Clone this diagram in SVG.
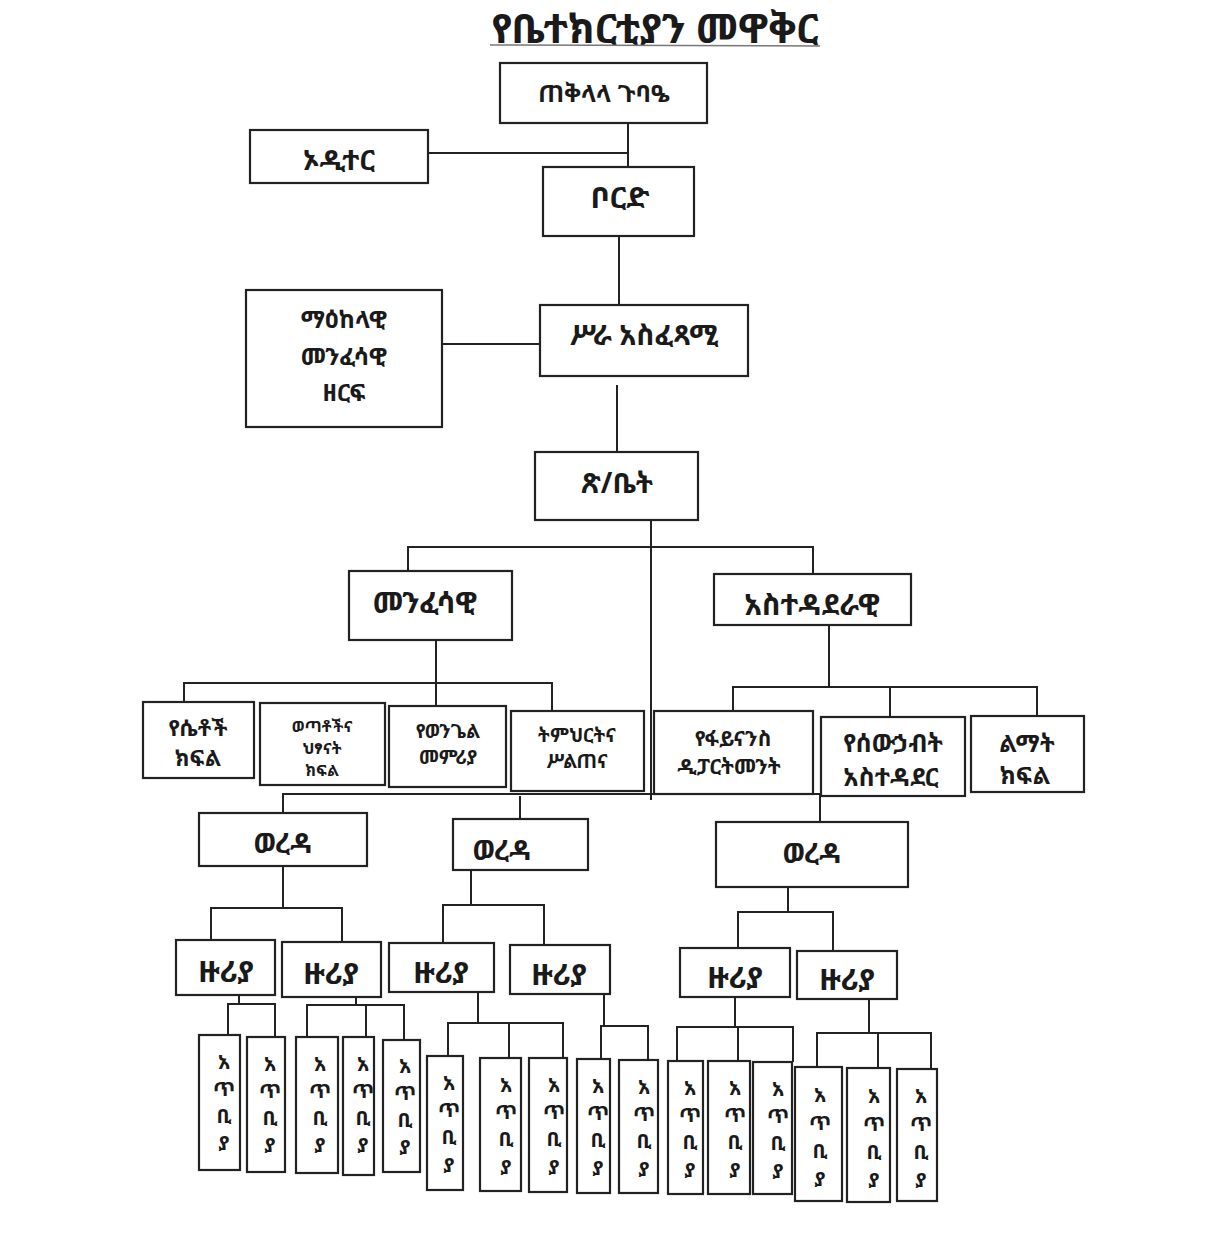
<svg xmlns="http://www.w3.org/2000/svg" width="1218" height="1243" viewBox="0 0 1218 1243">
<style>
.box{fill:#fff;stroke:#222;stroke-width:2.2}
.t{font-family:'Noto Sans Ethiopic','Noto Serif Ethiopic','Abyssinica SIL','DejaVu Sans','Noto Sans',sans-serif;font-weight:bold;fill:#1a1a1a;text-anchor:middle;dominant-baseline:central}
.l{fill:none;stroke:#222;stroke-width:2}
.s16{font-size:16px}.s19{font-size:19px}.s20{font-size:20px}.s21{font-size:21px}.s22{font-size:22px}.s24{font-size:24px}.s25{font-size:25px}.s28{font-size:28px}.s29{font-size:29px}.s30{font-size:30px}
</style>
<rect width="1218" height="1243" fill="#fff"/>
<g id="title">
<text class="t" x="655" y="27" style="font-size:40px">የቤተክርቲያን መዋቅር</text>
<line x1="490" y1="45" x2="820" y2="46" stroke="#777" stroke-width="1.5"/>
</g>
<g id="connectors">
<path class="l" d="M628 123V167M428 153H628"/>
<path class="l" d="M619 236V305"/>
<path class="l" d="M442 344H540"/>
<path class="l" d="M617 385V452"/>
<path class="l" d="M651 520V800M408 572V547H813V575"/>
<path class="l" d="M436 640V683M184 703V683H552V711M436 683V706"/>
<path class="l" d="M829 625V687M733 711V687H1037V717M890 687V717"/>
<path class="l" d="M283 813V794H820V823M520 796V820"/>
<path class="l" d="M283 866V908M211 940V908H342V942"/>
<path class="l" d="M471 870V905M443 943V905H544V945"/>
<path class="l" d="M788 887V912M738 948V912H833V951"/>
<path class="l" d="M239 995V1004M228 1035V1004H275V1037"/>
<path class="l" d="M356 997V1005M307 1037V1005H404V1040M366 1005V1037"/>
<path class="l" d="M478 992V1023M448 1056V1023H563V1058M509 1023V1058"/>
<path class="l" d="M604 994V1026M601 1059V1026H648V1060"/>
<path class="l" d="M735 997V1027M677 1061V1027H793V1062M738 1027V1061"/>
<path class="l" d="M869 999V1033M817 1067V1033H931V1069M878 1033V1068"/>
</g>
<g id="n-gubae"><rect class="box" x="500" y="63" width="207" height="60"/><text class="t s24" x="604" y="92">ጠቅላላ ጉባዔ</text></g>
<g id="n-auditor"><rect class="box" x="250" y="130" width="178" height="53"/><text class="t s28" x="339" y="159">ኦዲተር</text></g>
<g id="n-board"><rect class="box" x="543" y="167" width="151" height="69"/><text class="t s30" x="620" y="196">ቦርድ</text></g>
<g id="n-exec"><rect class="box" x="540" y="305" width="208" height="71"/><text class="t s28" x="644" y="334">ሥራ አስፈጻሚ</text></g>
<g id="n-central"><rect class="box" x="246" y="290" width="196" height="137"/><text class="t s24" x="344" y="318">ማዕከላዊ</text><text class="t s24" x="344" y="355">መንፈሳዊ</text><text class="t s24" x="344" y="391">ዘርፍ</text></g>
<g id="n-office"><rect class="box" x="535" y="452" width="163" height="68"/><text class="t s28" x="617" y="482">ጽ/ቤት</text></g>
<g id="n-spiritual"><rect class="box" x="349" y="571" width="163" height="69"/><text class="t s29" x="425" y="601">መንፈሳዊ</text></g>
<g id="n-admin"><rect class="box" x="714" y="574" width="197" height="51"/><text class="t s29" x="812" y="603">አስተዳደራዊ</text></g>
<g id="n-women"><rect class="box" x="143" y="702" width="111" height="76"/><text class="t s22" x="198" y="727">የሴቶች</text><text class="t s22" x="198" y="757">ክፍል</text></g>
<g id="n-youth"><rect class="box" x="260" y="703" width="125" height="82"/><text class="t s16" x="322" y="726">ወጣቶችና</text><text class="t s16" x="322" y="748">ህፃናት</text><text class="t s16" x="322" y="770">ክፍል</text></g>
<g id="n-gospel"><rect class="box" x="389" y="706" width="117" height="81"/><text class="t s19" x="448" y="731">የወንጌል</text><text class="t s19" x="448" y="757">መምሪያ</text></g>
<g id="n-education"><rect class="box" x="511" y="711" width="133" height="80"/><text class="t s19" x="577" y="735">ትምህርትና</text><text class="t s19" x="577" y="761">ሥልጠና</text></g>
<g id="n-finance"><rect class="box" x="654" y="711" width="159" height="83"/><text class="t s21" x="733" y="738">የፋይናንስ</text><text class="t s21" x="729" y="766">ዲፓርትመንት</text></g>
<g id="n-hr"><rect class="box" x="821" y="717" width="144" height="79"/><text class="t s25" x="893" y="742">የሰውኃብት</text><text class="t s25" x="891" y="776">አስተዳደር</text></g>
<g id="n-dev"><rect class="box" x="971" y="716" width="113" height="76"/><text class="t s24" x="1027" y="742">ልማት</text><text class="t s24" x="1025" y="774">ክፍል</text></g>
<g id="n-wereda1"><rect class="box" x="199" y="813" width="168" height="53"/><text class="t s28" x="283" y="842">ወረዳ</text></g>
<g id="n-wereda2"><rect class="box" x="453" y="819" width="135" height="51"/><text class="t s28" x="502" y="849">ወረዳ</text></g>
<g id="n-wereda3"><rect class="box" x="716" y="822" width="192" height="65"/><text class="t s28" x="812" y="852">ወረዳ</text></g>
<g id="n-zuria1"><rect class="box" x="176" y="940" width="99" height="55"/><text class="t s30" x="226" y="970">ዙሪያ</text></g>
<g id="n-zuria2"><rect class="box" x="282" y="942" width="99" height="55"/><text class="t s30" x="331" y="972">ዙሪያ</text></g>
<g id="n-zuria3"><rect class="box" x="389" y="943" width="105" height="49"/><text class="t s30" x="441" y="971">ዙሪያ</text></g>
<g id="n-zuria4"><rect class="box" x="510" y="945" width="100" height="49"/><text class="t s30" x="559" y="973">ዙሪያ</text></g>
<g id="n-zuria5"><rect class="box" x="680" y="948" width="110" height="49"/><text class="t s30" x="735" y="976">ዙሪያ</text></g>
<g id="n-zuria6"><rect class="box" x="797" y="951" width="100" height="48"/><text class="t s30" x="847" y="978">ዙሪያ</text></g>
<g id="atbiya">
<g id="n-a1"><rect class="box" x="199" y="1035" width="41" height="135"/><text class="t s20" x="224" y="1061">አ</text><text class="t s20" x="224" y="1088">ጥ</text><text class="t s20" x="224" y="1115">ቢ</text><text class="t s20" x="224" y="1142">ያ</text></g>
<g id="n-a2"><rect class="box" x="247" y="1037" width="38" height="135"/><text class="t s20" x="270" y="1063">አ</text><text class="t s20" x="270" y="1090">ጥ</text><text class="t s20" x="270" y="1117">ቢ</text><text class="t s20" x="270" y="1144">ያ</text></g>
<g id="n-a3"><rect class="box" x="296" y="1037" width="42" height="136"/><text class="t s20" x="320" y="1063">አ</text><text class="t s20" x="320" y="1090">ጥ</text><text class="t s20" x="320" y="1117">ቢ</text><text class="t s20" x="320" y="1144">ያ</text></g>
<g id="n-a4"><rect class="box" x="343" y="1037" width="31" height="138"/><text class="t s20" x="363" y="1063">አ</text><text class="t s20" x="363" y="1090">ጥ</text><text class="t s20" x="363" y="1117">ቢ</text><text class="t s20" x="363" y="1144">ያ</text></g>
<g id="n-a5"><rect class="box" x="383" y="1040" width="37" height="132"/><text class="t s20" x="405" y="1065">አ</text><text class="t s20" x="405" y="1092">ጥ</text><text class="t s20" x="405" y="1119">ቢ</text><text class="t s20" x="405" y="1146">ያ</text></g>
<g id="n-a6"><rect class="box" x="427" y="1056" width="36" height="134"/><text class="t s20" x="449" y="1082">አ</text><text class="t s20" x="449" y="1109">ጥ</text><text class="t s20" x="449" y="1136">ቢ</text><text class="t s20" x="449" y="1164">ያ</text></g>
<g id="n-a7"><rect class="box" x="480" y="1058" width="41" height="133"/><text class="t s20" x="506" y="1084">አ</text><text class="t s20" x="506" y="1111">ጥ</text><text class="t s20" x="506" y="1138">ቢ</text><text class="t s20" x="506" y="1166">ያ</text></g>
<g id="n-a8"><rect class="box" x="529" y="1058" width="38" height="134"/><text class="t s20" x="554" y="1084">አ</text><text class="t s20" x="554" y="1111">ጥ</text><text class="t s20" x="554" y="1138">ቢ</text><text class="t s20" x="554" y="1166">ያ</text></g>
<g id="n-a9"><rect class="box" x="577" y="1059" width="33" height="134"/><text class="t s20" x="598" y="1085">አ</text><text class="t s20" x="598" y="1112">ጥ</text><text class="t s20" x="598" y="1139">ቢ</text><text class="t s20" x="598" y="1167">ያ</text></g>
<g id="n-a10"><rect class="box" x="619" y="1060" width="39" height="133"/><text class="t s20" x="644" y="1086">አ</text><text class="t s20" x="644" y="1113">ጥ</text><text class="t s20" x="644" y="1140">ቢ</text><text class="t s20" x="644" y="1168">ያ</text></g>
<g id="n-a11"><rect class="box" x="668" y="1061" width="35" height="133"/><text class="t s20" x="690" y="1087">አ</text><text class="t s20" x="690" y="1114">ጥ</text><text class="t s20" x="690" y="1141">ቢ</text><text class="t s20" x="690" y="1169">ያ</text></g>
<g id="n-a12"><rect class="box" x="708" y="1061" width="42" height="133"/><text class="t s20" x="735" y="1087">አ</text><text class="t s20" x="735" y="1114">ጥ</text><text class="t s20" x="735" y="1141">ቢ</text><text class="t s20" x="735" y="1169">ያ</text></g>
<g id="n-a13"><rect class="box" x="753" y="1062" width="39" height="132"/><text class="t s20" x="778" y="1088">አ</text><text class="t s20" x="778" y="1115">ጥ</text><text class="t s20" x="778" y="1142">ቢ</text><text class="t s20" x="778" y="1170">ያ</text></g>
<g id="n-a14"><rect class="box" x="795" y="1067" width="47" height="134"/><text class="t s20" x="820" y="1094">አ</text><text class="t s20" x="820" y="1122">ጥ</text><text class="t s20" x="820" y="1150">ቢ</text><text class="t s20" x="820" y="1178">ያ</text></g>
<g id="n-a15"><rect class="box" x="847" y="1068" width="43" height="134"/><text class="t s20" x="874" y="1095">አ</text><text class="t s20" x="874" y="1123">ጥ</text><text class="t s20" x="874" y="1151">ቢ</text><text class="t s20" x="874" y="1179">ያ</text></g>
<g id="n-a16"><rect class="box" x="897" y="1069" width="40" height="132"/><text class="t s20" x="921" y="1095">አ</text><text class="t s20" x="921" y="1123">ጥ</text><text class="t s20" x="921" y="1151">ቢ</text><text class="t s20" x="921" y="1179">ያ</text></g>
</g>
</svg>
